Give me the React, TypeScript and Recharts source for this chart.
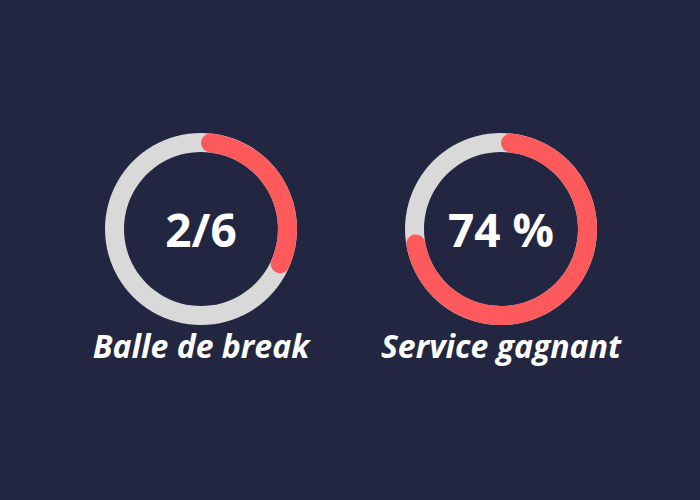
import { PieChart, Pie, Cell } from "recharts";

const breakPoints = [
  { name: "gagnées", value: 2 },
  { name: "restantes", value: 4 },
];
const serviceWin = [
  { name: "gagnant", value: 74 },
  { name: "reste", value: 26 },
];
const track = [{ name: "fond", value: 1 }];
const centerLabels = ["2/6", "74 %"];
const captions = ["Balle de break", "Service gagnant"];

const BG = "#222640";
const RED = "#FF5A5B";
const GREY = "#D9D9D9";
const FONT = "'Open Sans', sans-serif";

const gauges = [
  { data: breakPoints, cx: 201, label: centerLabels[0], caption: captions[0] },
  { data: serviceWin, cx: 501, label: centerLabels[1], caption: captions[1] },
];

export default function App() {
  return (
    <div
      style={{
        position: "fixed",
        top: 0,
        left: 0,
        width: 700,
        height: 500,
        background: BG,
        fontFamily: FONT,
      }}
    >
      <PieChart width={700} height={500} margin={{ top: 0, right: 0, bottom: 0, left: 0 }}>
        {gauges.map((g, i) => (
          <Pie
            key={`track-${i}`}
            data={track}
            dataKey="value"
            cx={g.cx}
            cy={229}
            innerRadius={77}
            outerRadius={96}
            startAngle={90}
            endAngle={-270}
            stroke="none"
            fill={GREY}
            isAnimationActive={false}
          />
        ))}
        {gauges.map((g, i) => (
          <Pie
            key={`val-${i}`}
            data={g.data}
            dataKey="value"
            cx={g.cx}
            cy={229}
            innerRadius={77}
            outerRadius={96}
            startAngle={90}
            endAngle={-270}
            cornerRadius={9.5}
            paddingAngle={0}
            stroke="none"
            isAnimationActive={false}
          >
            {g.data.map((d, j) => (
              <Cell key={d.name} fill={j === 0 ? RED : "transparent"} />
            ))}
          </Pie>
        ))}
      </PieChart>
      {gauges.map((g) => (
        <div
          key={g.label}
          style={{
            position: "absolute",
            left: g.cx - 100,
            width: 200,
            top: 229 - 30,
            height: 60,
            lineHeight: "60px",
            textAlign: "center",
            color: "#FFFFFF",
            fontSize: 46,
            fontWeight: 700,
          }}
        >
          {g.label}
        </div>
      ))}
      {gauges.map((g) => (
        <div
          key={g.caption}
          style={{
            position: "absolute",
            left: g.cx - 150,
            width: 300,
            top: 325,
            textAlign: "center",
            color: "#FFFFFF",
            fontSize: 32,
            fontWeight: 700,
            fontStyle: "italic",
            lineHeight: "42px",
          }}
        >
          {g.caption}
        </div>
      ))}
    </div>
  );
}
